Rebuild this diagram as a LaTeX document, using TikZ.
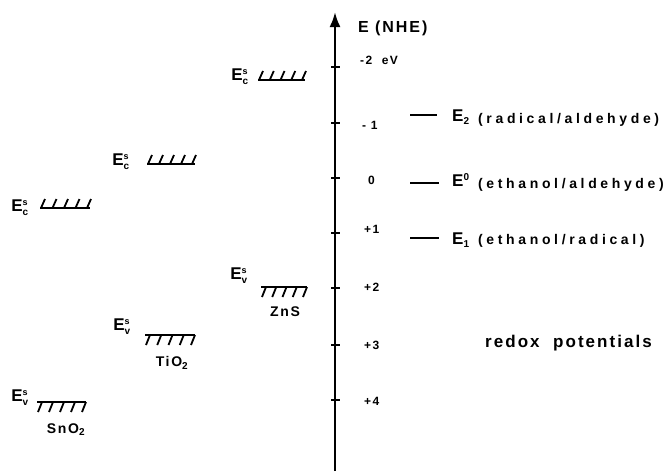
\documentclass[tikz,border=0pt]{standalone}
\usepackage{fontspec}
\newfontfamily\hv{Liberation Sans}[LetterSpace=12]
\newfontfamily\hvw{Liberation Sans}[LetterSpace=26]
\usetikzlibrary{arrows.meta}
\newcommand{\fs}[1]{\fontsize{#1}{#1}\selectfont}
\newcommand{\Elev}[3]{\hv\bfseries\fs{#1}E\ensuremath{^{\hbox{\hv\bfseries\fs{#2}#3}}}}
\newcommand{\Ess}[2]{\hv\bfseries\fs{17}E\ensuremath{^{\hbox{\hv\bfseries\fs{9}s}}_{\hbox{\hv\bfseries\fs{10}#2}}}}
\tikzset{
  axisline/.style={line width=2.4pt},
  tickline/.style={line width=1.5pt},
  band/.style={line width=1.8pt},
  redox/.style={line width=1.8pt},
  lbl/.style={inner sep=0pt, font=\hv\bfseries},
  tlbl/.style={lbl, anchor=west, font=\hv\bfseries\fs{12}},
  plbl/.style={lbl, anchor=west, font=\hvw\bfseries\fs{14}},
  slbl/.style={lbl, font=\hv\bfseries\fs{14}},
}
\newcommand{\cbnd}[3]{%
  \draw[band] (#1,#3) -- (#2,#3);
  \foreach \i in {0,...,4} {\draw[band] ({#1+1+\i*(#2-#1-4)/4},#3) -- ++(4,-9);}
}
\newcommand{\vbnd}[3]{%
  \draw[band] (#1,#3) -- (#2,#3);
  \foreach \i in {0,...,4} {\draw[band] ({#1+5+\i*(#2-#1-5)/4},#3) -- ++(-4,10);}
}
\begin{document}
\begin{tikzpicture}[x=1pt,y=-1pt]
\useasboundingbox (0,0) rectangle (666,471);
% axis
\coordinate (axb) at (335,471);
\coordinate (axt) at (335,12);
\draw[axisline,-{Latex[length=15pt,width=11pt]}] (axb) -- (axt);
\foreach \y/\n in {67/m2,123/m1,178/z,233/p1,288/p2,345/p3,400/p4} {
  \coordinate (t\n l) at (331,\y);
  \coordinate (t\n r) at (340,\y);
  \draw[tickline] (t\n l) -- (t\n r);
}
\node[lbl, anchor=west, font=\hv\bfseries\fs{16}] (ehe) at (358,28) {E (NHE)};
% tick labels
\node[tlbl] (lm2) at (360,60) {-2\ \ eV};
\node[tlbl] (lm1) at (362,125) {- 1};
\node[tlbl] (lz) at (368,180) {0};
\node[tlbl] (lp1) at (364,229) {+1};
\node[tlbl] (lp2) at (364,287) {+2};
\node[tlbl] (lp3) at (364,345) {+3};
\node[tlbl] (lp4) at (364,401) {+4};
% redox levels
\coordinate (r2a) at (410,115); \coordinate (r2b) at (437,115);
\draw[redox, line width=2.3pt] (r2a) -- (r2b);
\node[lbl, anchor=west] (e2) at (452,117) {\hv\bfseries\fs{17}E\ensuremath{_{\hbox{\hv\bfseries\fs{10}2}}}};
\node[plbl] (e2t) at (478,120) {(radical/aldehyde)};
\coordinate (r0a) at (410,183); \coordinate (r0b) at (439,183);
\draw[redox] (r0a) -- (r0b);
\node[lbl, anchor=west] (e0) at (452,180) {\Elev{17}{10}{0}};
\node[plbl] (e0t) at (478,185) {(ethanol/aldehyde)};
\coordinate (r1a) at (410,238); \coordinate (r1b) at (439,238);
\draw[redox] (r1a) -- (r1b);
\node[lbl, anchor=west] (e1) at (452,240) {\hv\bfseries\fs{17}E\ensuremath{_{\hbox{\hv\bfseries\fs{10}1}}}};
\node[plbl] (e1t) at (478,241) {(ethanol/radical)};
\node[lbl, anchor=west, font=\hv\bfseries\fs{17}] (redox) at (485,343) {redox\ \ potentials};
% ZnS
\node[lbl] (zc) at (240,77) {\Ess{17}{c}};
\cbnd{258}{305}{80}
\node[lbl] (zv) at (239,276) {\Ess{17}{v}};
\vbnd{261}{307}{287}
\node[slbl] (zns) at (285,312) {ZnS};
% TiO2
\node[lbl] (tc) at (121,162) {\Ess{17}{c}};
\cbnd{147}{195}{164}
\node[lbl] (tv) at (122,327) {\Ess{17}{v}};
\vbnd{145}{195}{335}
\node[slbl] (tio) at (172,363) {TiO\ensuremath{_{\hbox{\hv\bfseries\fs{10}2}}}};
% SnO2
\node[lbl] (sc) at (20,208) {\Ess{17}{c}};
\cbnd{40}{90}{208}
\node[lbl] (sv) at (20,398) {\Ess{17}{v}};
\vbnd{37}{86}{402}
\node[slbl] (sno) at (66,430) {SnO\ensuremath{_{\hbox{\hv\bfseries\fs{10}2}}}};
\end{tikzpicture}
\end{document}
